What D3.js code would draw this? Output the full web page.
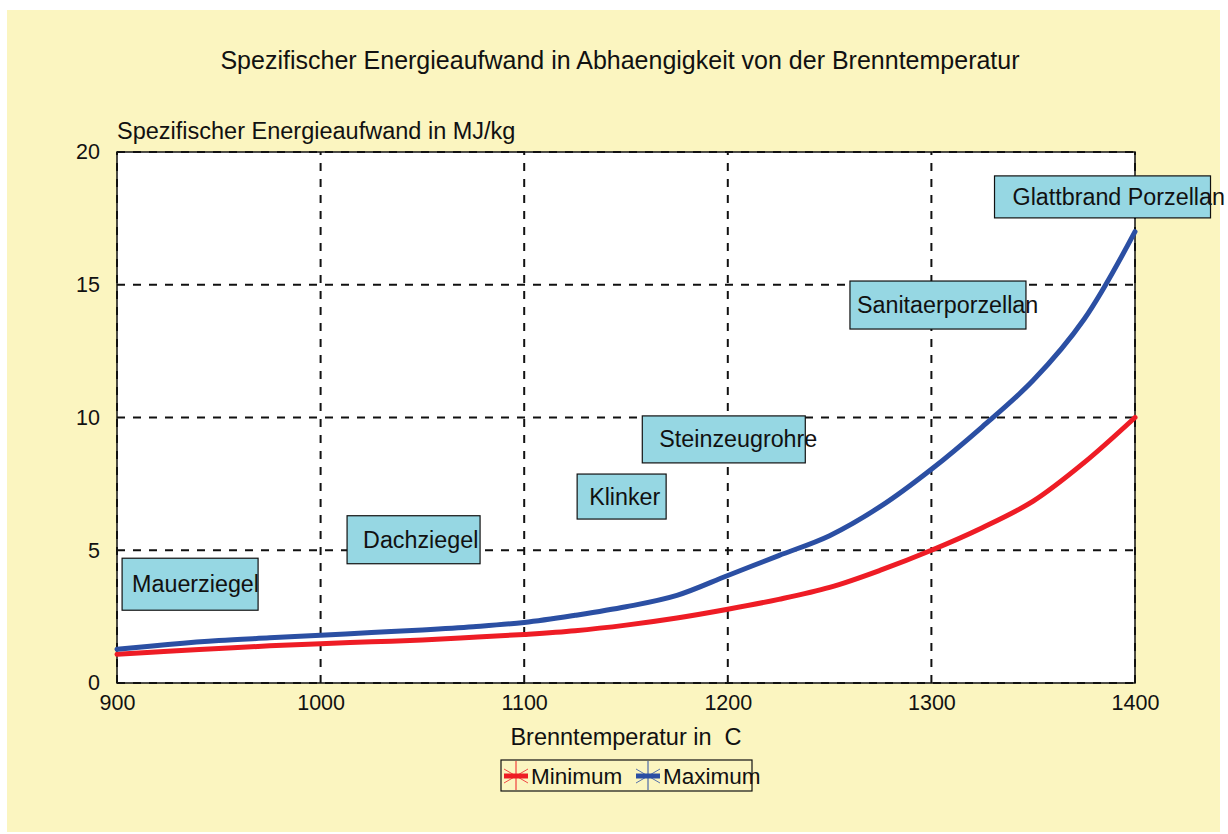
<!DOCTYPE html>
<html>
<head>
<meta charset="utf-8">
<script src="https://d3js.org/d3.v7.min.js"></script>
<style>
  body { margin: 0; background: #fff; }
  svg text { font-family: "Liberation Sans", Arial, sans-serif; fill: #111; }
</style>
</head>
<body>
<div id="chart"></div>
<script>
// temperatures (C)
var temps = [900, 925, 950, 975, 1000, 1025, 1050, 1075, 1100, 1125, 1150, 1175, 1200,
             1225, 1250, 1275, 1300, 1325, 1350, 1375, 1400];
// specific energy, MJ/kg
var minValues = [1.08, 1.2, 1.3, 1.4, 1.48, 1.55, 1.62, 1.72, 1.83, 1.97, 2.18, 2.45, 2.78,
                 3.15, 3.6, 4.25, 5.0, 5.85, 6.85, 8.3, 10.0];
var maxValues = [1.27, 1.45, 1.6, 1.7, 1.8, 1.9, 2.0, 2.12, 2.28, 2.55, 2.87, 3.3, 4.05,
                 4.8, 5.55, 6.65, 8.05, 9.65, 11.4, 13.7, 17.0];

var xTicks = [900, 1000, 1100, 1200, 1300, 1400];
var yTicks = [0, 5, 10, 15, 20];

// product annotations: box anchor (top-left) in data units
var products = ["Mauerziegel", "Dachziegel", "Klinker", "Steinzeugrohre", "Sanitaerporzellan", "Glattbrand Porzellan"];
var productTemp = [902.5, 1013, 1126, 1158, 1260, 1331];
var productValue = [4.7, 6.3, 7.87, 10.06, 15.14, 19.1];

var seriesNames = ["Minimum", "Maximum"];

// layout of the annotation boxes (px)
var boxWidth = [136, 133, 89, 163, 176, 216];
var boxHeight = [52, 48, 45, 47, 48, 42];
var boxTextDx = [10, 16, 12, 17, 7, 18];
var colors = ["#ee1c25", "#2b4fa3"];

var width = 1228, height = 834;
var margin = {left: 117, right: 93, top: 152, bottom: 151};

var svg = d3.select("#chart").append("svg")
    .attr("width", width)
    .attr("height", height);

svg.append("rect")
    .attr("x", 7).attr("y", 10)
    .attr("width", 1213).attr("height", 822)
    .attr("fill", "#fbf5c0");

var x = d3.scaleLinear().domain([900, 1400]).range([margin.left, width - margin.right]);
var y = d3.scaleLinear().domain([0, 20]).range([height - margin.bottom, margin.top]);

// plot area
svg.append("rect")
    .attr("x", x(900)).attr("y", y(20))
    .attr("width", x(1400) - x(900)).attr("height", y(0) - y(20))
    .attr("fill", "#fff")
    .attr("stroke", "#111")
    .attr("stroke-width", 1.5);

// dashed grid
var grid = svg.append("g").attr("stroke", "#111").attr("stroke-width", 2).attr("stroke-dasharray", "8,8");
grid.selectAll(".vg").data(xTicks).enter().append("line")
    .attr("x1", function(d) { return x(d); }).attr("x2", function(d) { return x(d); })
    .attr("y1", y(0)).attr("y2", y(20));
grid.selectAll(".hg").data(yTicks).enter().append("line")
    .attr("x1", x(900)).attr("x2", x(1400))
    .attr("y1", function(d) { return y(d); }).attr("y2", function(d) { return y(d); });

// axes
var xAxis = d3.axisBottom(x).tickValues(xTicks).tickSize(0).tickPadding(12).tickFormat(d3.format("d"));
var yAxis = d3.axisLeft(y).tickValues(yTicks).tickSize(0).tickPadding(17);

var gx = svg.append("g").attr("transform", "translate(0," + y(0) + ")").call(xAxis);
var gy = svg.append("g").attr("transform", "translate(" + x(900) + ",0)").call(yAxis);
[gx, gy].forEach(function(g) {
  g.select(".domain").remove();
  g.selectAll("text").style("font-size", "21.5px").attr("fill", "#111");
});

// titles
svg.append("text")
    .attr("x", 620).attr("y", 69)
    .attr("text-anchor", "middle")
    .style("font-size", "25px")
    .text("Spezifischer Energieaufwand in Abhaengigkeit von der Brenntemperatur");

svg.append("text")
    .attr("x", 117).attr("y", 139)
    .style("font-size", "23.5px")
    .text("Spezifischer Energieaufwand in MJ/kg");

svg.append("text")
    .attr("x", 626).attr("y", 745)
    .attr("text-anchor", "middle")
    .style("font-size", "23.5px")
    .style("white-space", "pre")
    .text("Brenntemperatur in  C");

// annotation boxes
products.forEach(function(name, i) {
  var bx = x(productTemp[i]), by = y(productValue[i]);
  svg.append("rect")
      .attr("x", bx).attr("y", by)
      .attr("width", boxWidth[i]).attr("height", boxHeight[i])
      .attr("fill", "#96d7e3")
      .attr("stroke", "#111")
      .attr("stroke-width", 1.2);
  svg.append("text")
      .attr("x", bx + boxTextDx[i])
      .attr("y", by + boxHeight[i] / 2 + 8)
      .style("font-size", "23.3px")
      .text(name);
});

// curves
var line = d3.line()
    .x(function(d) { return x(d[0]); })
    .y(function(d) { return y(d[1]); })
    .curve(d3.curveCatmullRom.alpha(0.5));

[minValues, maxValues].forEach(function(vals, k) {
  var pts = temps.map(function(t, i) { return [t, vals[i]]; });
  svg.append("path")
      .datum(pts)
      .attr("fill", "none")
      .attr("stroke", colors[k])
      .attr("stroke-width", 5)
      .attr("stroke-linecap", "round")
      .attr("d", line);
});

// legend
var legend = svg.append("g");
legend.append("rect")
    .attr("x", 501).attr("y", 760)
    .attr("width", 251).attr("height", 31)
    .attr("fill", "none")
    .attr("stroke", "#111")
    .attr("stroke-width", 1.2);

var legendX = [504, 636];
seriesNames.forEach(function(name, k) {
  var lx = legendX[k], ly = 776;
  legend.append("line")
      .attr("x1", lx).attr("x2", lx + 24)
      .attr("y1", ly).attr("y2", ly)
      .attr("stroke", colors[k]).attr("stroke-width", 5);
  legend.append("line")
      .attr("x1", lx + 12).attr("x2", lx + 12)
      .attr("y1", 761).attr("y2", 790)
      .attr("stroke", colors[k]).attr("stroke-width", 1);
  legend.append("line")
      .attr("x1", lx).attr("x2", lx + 24)
      .attr("y1", ly - 7).attr("y2", ly + 7)
      .attr("stroke", colors[k]).attr("stroke-width", 0.8);
  legend.append("line")
      .attr("x1", lx).attr("x2", lx + 24)
      .attr("y1", ly + 7).attr("y2", ly - 7)
      .attr("stroke", colors[k]).attr("stroke-width", 0.8);
  legend.append("text")
      .attr("x", lx + 27).attr("y", ly + 8)
      .style("font-size", "22.5px")
      .text(name);
});
</script>
</body>
</html>
